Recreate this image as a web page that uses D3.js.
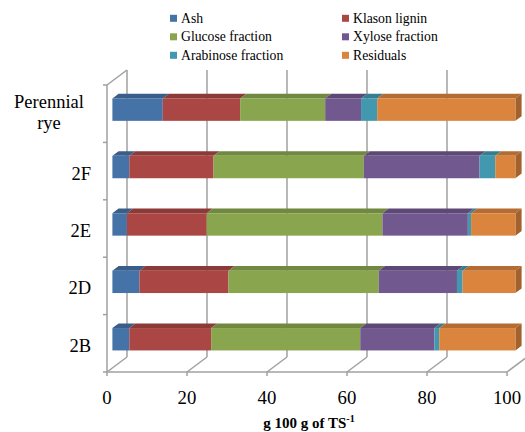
<!DOCTYPE html>
<html><head><meta charset="utf-8">
<script src="https://cdn.jsdelivr.net/npm/d3@7"></script>
<style>body{margin:0;background:#fff}svg{display:block}</style>
</head><body>
<svg id="c" width="525" height="432"></svg>
<script>
const categories = ["Perennial\nrye", "2F", "2E", "2D", "2B"];
const seriesNames = ["Ash", "Klason lignin", "Glucose fraction", "Xylose fraction", "Arabinose fraction", "Residuals"];
const ash       = [12.5, 4.2, 3.6, 6.7, 4.2];
const klason    = [19.2, 20.9, 19.8, 22.1, 20.3];
const glucose   = [21.1, 37.3, 43.6, 37.3, 37.0];
const xylose    = [8.9, 28.7, 21.2, 19.4, 18.4];
const arabinose = [4.0, 3.9, 0.8, 1.4, 1.2];
const residuals = [34.3, 5.0, 11.0, 13.1, 18.9];
const xTicks = [0, 20, 40, 60, 80, 100];
const colors = ["#4572A7", "#AA4643", "#89A54E", "#71588F", "#4198AF", "#DB843D"];

const series = [ash, klason, glucose, xylose, arabinose, residuals];
const table = categories.map((c, i) => {
  const o = {cat: c};
  seriesNames.forEach((s, j) => o[s] = series[j][i]);
  return o;
});
const stacked = d3.stack().keys(seriesNames)(table);

const FONT = "'Liberation Serif', 'Times New Roman', serif";
const svg = d3.select("#c");
const DX = 20, DY = -15;              // full depth offset
const x = d3.scaleLinear().domain([0, 100]).range([107, 507]);
const y = d3.scaleBand().domain(categories).range([85, 372]).paddingInner(0.61).paddingOuter(0.305);
const step = y.step();
const d0 = 0.27, d1 = 0.58;           // bar depth range
const xb = d3.scaleLinear().domain([0, 100]).range([x(0) + DX * d0, x(100) + DX * d0 + 3]);
const grid = "#a0a0a0";

// walls / floor
const g = svg.append("g").attr("fill", "none").attr("stroke", grid).attr("stroke-width", 1.5);
xTicks.forEach(v => {
  g.append("line").attr("x1", x(v) + DX).attr("x2", x(v) + DX).attr("y1", 85 + DY).attr("y2", 372 + DY);
  g.append("line").attr("x1", x(v)).attr("x2", x(v) + DX).attr("y1", 372).attr("y2", 372 + DY);
  g.append("line").attr("x1", x(v)).attr("x2", x(v)).attr("y1", 372).attr("y2", 376);
});
g.append("line").attr("x1", x(0)).attr("x2", x(100)).attr("y1", 372).attr("y2", 372);
g.append("line").attr("x1", x(0)).attr("x2", x(0)).attr("y1", 85).attr("y2", 372);
g.append("line").attr("x1", x(0)).attr("x2", x(0) + DX).attr("y1", 85).attr("y2", 85 + DY);
const bounds = categories.map(c => y(c) - (step - y.bandwidth()) / 2).concat([372]);
bounds.forEach(b => g.append("line").attr("x1", x(0) - 4).attr("x2", x(0)).attr("y1", b).attr("y2", b));

// bars
const bdx = DX * (d1 - d0), bdy = DY * (d1 - d0);
categories.forEach((c, i) => {
  const top = y(c) + DY * d0, h = y.bandwidth();
  stacked.forEach((s, j) => {
    const a = xb(s[i][0]), b = xb(s[i][1]);
    const col = d3.color(colors[j]);
    const bg = svg.append("g");
    bg.append("path").attr("d", `M${a},${top}L${a + bdx},${top + bdy}L${b + bdx},${top + bdy}L${b},${top}Z`)
      .attr("fill", col.darker(0.55));
    if (j === stacked.length - 1) {
      bg.append("path").attr("d", `M${b},${top}L${b + bdx},${top + bdy}L${b + bdx},${top + bdy + h}L${b},${top + h}Z`)
        .attr("fill", col.darker(0.85));
    }
    bg.append("rect").attr("x", a).attr("y", top).attr("width", Math.max(0, b - a)).attr("height", h).attr("fill", col);
  });
});

// y labels
categories.forEach(c => {
  const cy = y(c) + y.bandwidth() / 2 + 2.5;
  const lines = c.split("\n");
  const t = svg.append("text").attr("font-family", FONT)
    .attr("font-size", 18.5).attr("fill", "#000");
  if (lines.length === 1) {
    t.attr("x", 91).attr("y", cy).attr("text-anchor", "end").attr("dominant-baseline", "central").text(c);
  } else {
    t.attr("text-anchor", "middle");
    lines.forEach((l, k) => t.append("tspan").attr("x", 49).attr("y", cy - 3.5 + (k - (lines.length - 1) / 2) * 20.5).attr("dominant-baseline", "central").text(l));
  }
});

// x tick labels
xTicks.forEach(v => svg.append("text").attr("x", x(v)).attr("y", 403.5).attr("text-anchor", "middle")
  .attr("font-family", FONT).attr("font-size", 18.8).text(v));

// x title
const tt = svg.append("text").attr("x", 309).attr("y", 427.5).attr("text-anchor", "middle")
  .attr("font-family", FONT).attr("font-size", 15).attr("font-weight", "bold");
tt.append("tspan").text("g 100 g of TS");
tt.append("tspan").attr("dy", -6).attr("font-size", 10).text("-1");

// legend
seriesNames.forEach((s, j) => {
  const col = j % 2, row = Math.floor(j / 2);
  const lx = col === 0 ? 170 : 342, ly = 18.3 + row * 18.5;
  svg.append("rect").attr("x", lx).attr("y", ly - 3.5).attr("width", 7).attr("height", 7).attr("fill", colors[j]);
  svg.append("text").attr("x", lx + 11).attr("y", ly).attr("dominant-baseline", "central")
    .attr("font-family", FONT).attr("font-size", 13.7).text(s);
});
</script>
</body></html>
